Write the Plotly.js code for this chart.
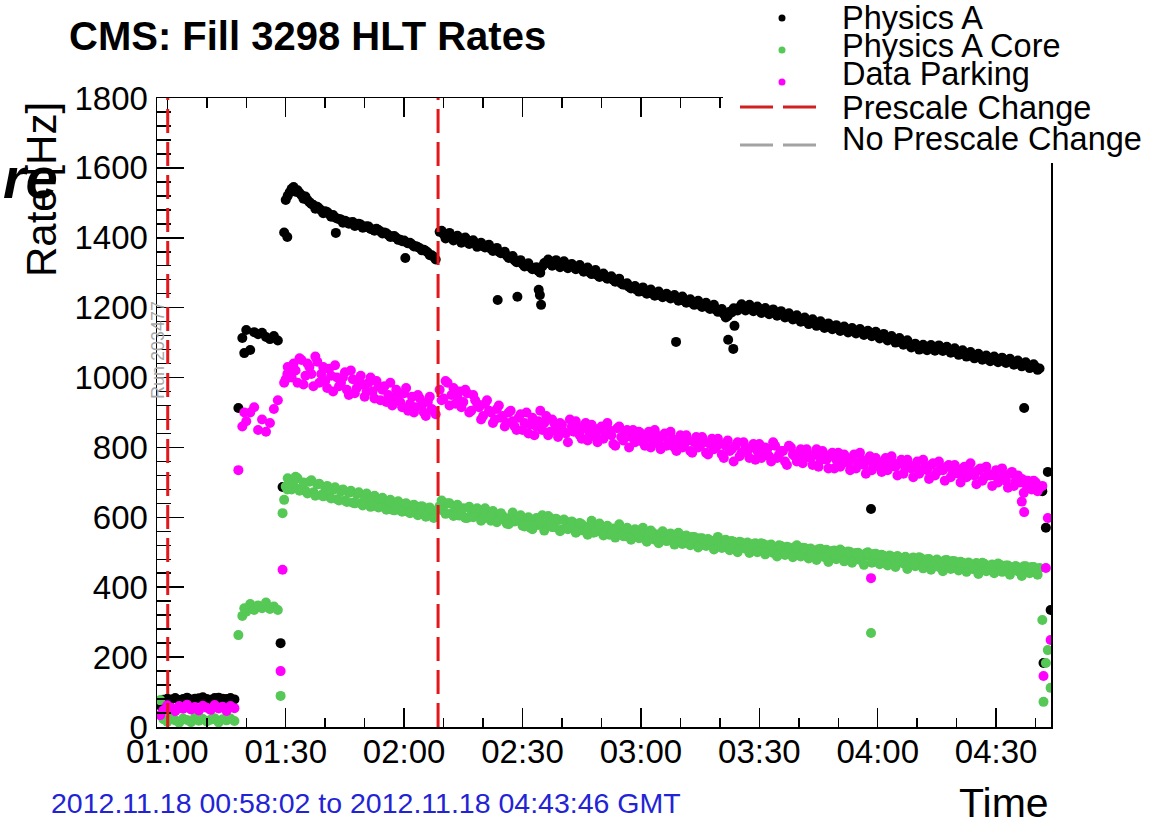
<!DOCTYPE html>
<html><head><meta charset="utf-8">
<script src="https://cdn.plot.ly/plotly-3.0.1.min.js"></script>
<style>html,body{margin:0;padding:0;background:#fff}#chart{width:1173px;height:827px}</style>
</head><body><div id="chart"></div>
<script>
// ---- data (time in minutes after 2012-11-18 00:00 GMT, rates in Hz) ----
const seg1Time = [58.2,59,60,61,62,63,64,65,66,67,68,69,70,71,72,73,74,75,76,77];
const seg1PhysicsA = [62,78,81,79,83,77,80,84,79,81,82,85,80,78,83,84,81,80,83,79];
const seg1Core = [77,22,15,26,19,12,24,20,14,27,18,23,16,21,25,13,22,19,24,17];
const seg1Parking = [34,48,62,55,45,60,52,64,50,57,47,61,55,49,63,53,58,46,60,54];

const seg2Time = [79,80,81,82,83,84,85,86,87,88];
const seg2PhysicsA = [1113,1136,1079,1130,1124,1128,1116,1110,1119,1106];
const seg2Core = [318,330,352,335,348,340,356,338,345,335];
const seg2Parking = [860,875,900,915,850,880,845,870,910,935];

const seg3Time = [90,91,92,93,94,95,96,97,98,99,100,101,102,103,104,105,106,107,108,109,110,111,112,113,114,115,116,117,118,119,120,121,122,123,124,125,126,127,128];
const seg3PhysicsA = [1508,1530,1545,1536,1522,1518,1502,1494,1489,1478,1476,1468,1465,1455,1452,1449,1440,1445,1436,1438,1430,1432,1424,1426,1418,1415,1408,1404,1400,1394,1392,1384,1381,1376,1370,1366,1358,1350,1338];
const seg3Core = [688,705,690,712,684,676,702,672,694,664,684,660,679,652,674,648,670,642,666,640,660,636,655,632,650,628,646,622,642,620,638,616,634,612,630,608,626,606,618];
const seg3Parking = [995,1015,1040,985,1050,1005,1030,975,1045,1010,990,1025,960,1000,985,1015,950,995,970,1005,945,985,960,990,935,975,950,920,965,930,955,905,945,915,940,900,930,910,895];

const seg3bTime = [90.5,91.5,92.5,93.5,94.5,95.5,96.5,97.5,98.5,99.5,100.5,101.5,102.5,103.5,104.5,105.5,106.5,107.5,108.5,109.5,110.5,111.5,112.5,113.5,114.5,115.5,116.5,117.5,118.5,119.5,120.5,121.5,122.5,123.5,124.5,125.5,126.5,127.5];
const seg3bPhysicsA = [1520,1540,1532,1528,1512,1508,1497,1483,1484,1470,1474,1460,1458,1454,1443,1446,1444,1434,1440,1429,1433,1425,1420,1422,1412,1413,1402,1405,1394,1390,1387,1386,1375,1373,1364,1362,1350,1346];
const seg3bCore = [712,680,716,676,700,668,706,662,696,660,690,654,686,648,680,644,676,640,672,634,668,630,662,628,656,622,650,620,646,616,640,612,636,606,632,602,628,598];
const seg3bParking = [1030,1000,1020,1055,980,1040,1010,1060,985,1030,970,1005,1035,975,1000,965,1020,955,990,980,960,1000,940,975,965,930,985,940,950,915,970,925,900,950,920,890,945,905];

const seg4Time = [129,130,131,132,133,134,135,136,137,138,139,140,141,142,143,144,145,146,147,148,149,150,151,152,153,154,155,156,157,158,159,160,161,162,163,164,165,166,167,168,169,170,171,172,173,174,175,176,177,178,179,180,181,182,183,184,185,186,187,188,189,190,191,192,193,194,195,196,197,198,199,200,201,202,203,204,205,206,207,208,209,210,211,212,213,214,215,216,217,218,219,220,221,222,223,224,225,226,227,228,229,230,231,232,233,234,235,236,237,238,239,240,241,242,243,244,245,246,247,248,249,250,251,252,253,254,255,256,257,258,259,260,261,262,263,264,265,266,267,268,269,270,271,272,273,274,275,276,277,278,279,280,281];
const seg4PhysicsA = [1417,1410,1406,1401,1403,1396,1398,1392,1390,1384,
1383,1376,1378,1369,1367,1360,1357,1349,1345,1335,
1332,1325,1323,1316,1313,1305,1318,1327,1332,1329,
1327,1325,1322,1323,1317,1315,1309,1307,1301,1299,
1293,1292,1287,1286,1279,1276,1269,1266,1259,1257,
1251,1250,1245,1244,1239,1239,1235,1235,1231,1231,
1226,1225,1219,1218,1213,1212,1207,1206,1201,1200,
1194,1191,1182,1176,1186,1196,1201,1202,1199,1200,
1195,1194,1190,1190,1187,1186,1181,1180,1175,1174,
1169,1168,1163,1162,1158,1157,1152,1151,1146,1146,
1142,1142,1138,1138,1135,1135,1131,1131,1127,1128,
1123,1121,1116,1115,1110,1109,1104,1103,1098,1096,
1090,1089,1086,1087,1085,1086,1084,1085,1081,1080,
1075,1074,1069,1069,1064,1064,1059,1059,1055,1056,
1052,1053,1050,1051,1047,1046,1041,1041,1036,1036,
1031,1030,1026];
const seg4Core = [632,618,640,612,628,605,626,598,620,610,
618,596,612,590,608,594,604,582,600,588,
598,576,594,570,590,578,606,580,598,572,
592,566,588,574,584,560,580,570,576,556,
574,560,572,550,568,558,566,546,562,552,
562,542,558,548,556,536,554,544,550,532,
548,538,546,526,544,534,540,522,538,528,
536,518,534,524,532,512,530,520,528,508,
526,516,524,504,522,512,520,500,516,506,
515,496,513,504,511,492,509,500,507,488,
505,496,503,484,501,492,499,480,497,488,
495,476,493,484,491,472,489,480,487,468,
485,476,483,464,481,472,479,460,477,468,
475,458,473,464,471,452,469,460,467,450,
465,456,464,446,462,454,461,444,460,452,
458,444,455];
const seg4Parking = [965,940,985,950,925,960,930,955,905,935,
915,890,935,900,880,920,890,870,905,860,
885,850,900,865,835,875,850,890,845,870,
830,865,840,880,845,860,825,870,840,855,
815,860,835,850,810,855,830,845,800,850,
825,840,805,845,820,835,795,840,815,825,
790,835,810,820,785,830,805,815,780,825,
800,810,770,820,795,805,775,815,790,800,
765,810,785,795,760,805,780,790,750,800,
775,785,755,795,770,780,745,790,765,775,
740,785,760,770,735,780,755,765,725,775,
750,760,730,770,745,755,720,765,740,750,
715,760,735,745,710,755,730,740,705,750,
725,735,700,745,720,730,695,740,715,725,
690,735,710,720,685,730,705,700,670,705,
680,700,685];

const seg4bTime = [129.5,130.5,131.5,132.5,133.5,134.5,135.5,136.5,137.5,138.5,139.5,140.5,141.5,142.5,143.5,144.5,145.5,146.5,147.5,148.5,149.5,150.5,151.5,152.5,153.5,154.5,155.5,156.5,157.5,158.5,159.5,160.5,161.5,162.5,163.5,164.5,165.5,166.5,167.5,168.5,169.5,170.5,171.5,172.5,173.5,174.5,175.5,176.5,177.5,178.5,179.5,180.5,181.5,182.5,183.5,184.5,185.5,186.5,187.5,188.5,189.5,190.5,191.5,192.5,193.5,194.5,195.5,196.5,197.5,198.5,199.5,200.5,201.5,202.5,203.5,204.5,205.5,206.5,207.5,208.5,209.5,210.5,211.5,212.5,213.5,214.5,215.5,216.5,217.5,218.5,219.5,220.5,221.5,222.5,223.5,224.5,225.5,226.5,227.5,228.5,229.5,230.5,231.5,232.5,233.5,234.5,235.5,236.5,237.5,238.5,239.5,240.5,241.5,242.5,243.5,244.5,245.5,246.5,247.5,248.5,249.5,250.5,251.5,252.5,253.5,254.5,255.5,256.5,257.5,258.5,259.5,260.5,261.5,262.5,263.5,264.5,265.5,266.5,267.5,268.5,269.5,270.5,271.5,272.5,273.5,274.5,275.5,276.5,277.5,278.5,279.5,280.5];
const seg4bPhysicsA = [1420,1398,1414,1392,1406,1386,1401,1382,1393,1374,
1386,1372,1380,1362,1371,1356,1360,1342,1348,1330,
1336,1318,1327,1310,1316,1300,1328,1338,1320,1336,
1316,1333,1313,1325,1310,1322,1303,1315,1296,1308,
1288,1298,1283,1290,1274,1283,1266,1270,1255,1262,
1246,1258,1240,1252,1234,1246,1230,1240,1226,1236,
1220,1232,1214,1224,1208,1220,1202,1214,1196,1208,
1188,1196,1172,1188,1198,1192,1210,1192,1208,1190,
1203,1185,1199,1181,1195,1177,1190,1172,1184,1166,
1178,1160,1172,1153,1167,1148,1161,1142,1155,1138,
1150,1133,1146,1129,1142,1126,1139,1122,1134,1118,
1131,1112,1125,1106,1119,1100,1113,1094,1107,1086,
1097,1080,1094,1078,1093,1077,1092,1076,1088,1071,
1084,1065,1078,1060,1073,1055,1068,1051,1063,1047,
1060,1044,1057,1042,1054,1037,1049,1032,1044,1027,
1038,1022];
const seg4bCore = [648,610,640,604,636,612,598,630,600,626,
590,626,598,618,586,612,592,580,614,590,
606,574,600,566,598,586,562,604,572,596,
560,594,566,588,556,584,562,550,590,558,
582,548,576,552,542,580,546,570,536,566,
540,570,530,562,536,526,560,532,554,522,
556,524,548,520,544,514,540,518,534,508,
544,512,536,506,530,500,528,510,498,524,
500,526,494,520,498,488,518,492,514,486,
520,488,512,482,506,478,510,486,472,504,
480,508,474,502,470,498,478,464,500,470,
496,466,490,462,488,458,484,468,452,482,
460,486,454,480,450,476,458,446,478,452,
474,448,470,444,466,452,438,470,446,462,
440,468,444,462,436,458,446,432,460,440,
458,436];
const seg4bParking = [935,990,920,970,945,915,965,900,950,925,
880,925,905,870,910,885,860,900,875,850,
895,870,840,885,860,905,870,835,880,850,
870,845,815,860,875,835,855,820,865,830,
850,825,870,835,805,860,820,850,830,815,
845,815,830,800,850,810,830,805,845,800,
820,800,835,790,815,800,830,785,810,795,
825,780,805,790,760,815,785,800,770,810,
790,770,800,775,815,770,790,760,805,780,
760,795,770,780,750,795,765,780,740,785,
765,745,780,755,770,740,785,750,765,735,
770,745,760,735,775,745,755,725,765,740,
745,725,765,735,750,720,760,735,745,715,
750,725,740,715,755,720,735,705,745,720,
720,700,740,705,725,690,720,710,695,685,
705,675];

// isolated readings (ramp transitions, dips, beam dump)
const spikeTime = [78,79.5,88.7,89.2,89.6,90.4,102.7,120.3,143.7,148.7,154.1,154.4,154.7,188.9,202.1,203.4,203.7,238.3,276.5,277.1,281.7,282.0,282.6,283.1,283.8];
const spikePhysicsA = [913,1070,240,687,1415,1402,1414,1342,1222,1231,1251,1236,1208,1102,1108,1082,1148,624,null,913,675,183,570,730,335];
const spikeCore = [263,340,89,612,650,680,null,null,null,null,null,null,null,null,null,null,null,269,null,null,306,72,183,220,112];
const spikeParking = [735,900,160,450,985,1010,null,null,null,null,null,null,null,null,null,null,null,426,645,615,690,146,455,598,249];

const prescaleChangeTime = [60.1, 128.6];

const seriesNames = ['Physics A','Physics A Core','Data Parking'];
const seriesColors = ['#000000','#55c855','#ff00ff'];
const xTickFormat = '%H:%M';
const xRangeMin = [57.39, 283.9];

// ---- helpers ----
function minToDate(m){
  const s = Math.round(m*60);
  const p = n => String(n).padStart(2,'0');
  return '2012-11-18 ' + p(Math.floor(s/3600)) + ':' + p(Math.floor((s%3600)/60)) + ':' + p(s%60);
}
const allTime = seg1Time.concat(seg2Time, seg3Time, seg3bTime, seg4Time, seg4bTime, spikeTime).map(minToDate);
const physA = seg1PhysicsA.concat(seg2PhysicsA, seg3PhysicsA, seg3bPhysicsA, seg4PhysicsA, seg4bPhysicsA, spikePhysicsA);
const core = seg1Core.concat(seg2Core, seg3Core, seg3bCore, seg4Core, seg4bCore, spikeCore);
const parking = seg1Parking.concat(seg2Parking, seg3Parking, seg3bParking, seg4Parking, seg4bParking, spikeParking);

const FONT = 'Liberation Sans, Arial, Helvetica, sans-serif';
const L = 157, T = 98, W = 894, H = 629;
const px = x => (x - L) / W;
const py = y => (T + H - y) / H;

const traces = [physA, core, parking].map((vals, i) => ({
  type: 'scatter', mode: 'markers', x: allTime, y: vals, name: seriesNames[i],
  marker: {color: seriesColors[i], size: 10, line: {width: 0}},
  showlegend: false, hoverinfo: 'skip', cliponaxis: true
}));

const shapes = [];
prescaleChangeTime.forEach(t => shapes.push({
  type: 'line', xref: 'x', yref: 'paper', x0: minToDate(t), x1: minToDate(t), y0: 0, y1: 1,
  line: {color: '#e3161c', width: 3, dash: '24px,9px'}, layer: 'above'
}));
// legend background covering frame
shapes.push({type:'rect', xref:'paper', yref:'paper', x0: px(723), x1: px(1173), y0: py(163), y1: py(0),
  fillcolor:'#ffffff', line:{width:0}, layer:'above'});
// legend markers
const legDotY = [18, 50, 82];
legDotY.forEach((y, i) => shapes.push({type:'circle', xref:'paper', yref:'paper', xsizemode:'pixel', ysizemode:'pixel',
  xanchor: px(782), yanchor: py(y), x0:-3.5, x1:3.5, y0:-3.5, y1:3.5,
  fillcolor: seriesColors[i], line:{width:0}, layer:'above'}));
// legend dashed lines
shapes.push({type:'line', xref:'paper', yref:'paper', x0: px(740), x1: px(817), y0: py(107), y1: py(107),
  line:{color:'#d21f1f', width:3, dash:'33px,10px'}, layer:'above'});
shapes.push({type:'line', xref:'paper', yref:'paper', x0: px(740), x1: px(817), y0: py(145), y1: py(145),
  line:{color:'#a3a3a3', width:3, dash:'33px,10px'}, layer:'above'});

const legText = ['Physics A','Physics A Core','Data Parking','Prescale Change','No Prescale Change'];
const legTextY = [18, 46, 74, 108, 139];
const annotations = legText.map((t, i) => ({
  text: t, xref:'paper', yref:'paper', x: px(840), y: py(legTextY[i]), xanchor:'left', yanchor:'middle',
  showarrow:false, font:{family: FONT, size: 32.5, color:'#000'}
}));
annotations.push({text:'Rate [Hz]', xref:'paper', yref:'paper', x: px(41), y: py(190), textangle:-90,
  xanchor:'center', yanchor:'middle', showarrow:false, font:{family: FONT, size: 42, color:'#000'}});
annotations.push({text:'<b><i>re</i></b>', xref:'paper', yref:'paper', x: px(1), y: py(177), xanchor:'left', yanchor:'middle',
  showarrow:false, font:{family: FONT, size: 58, color:'#000'}});
annotations.push({text:'Run 203477', xref:'paper', yref:'paper', x: px(158), y: py(350), textangle:-90,
  xanchor:'center', yanchor:'middle', showarrow:false, font:{family: FONT, size: 18, color:'#a8a8a8'}});
annotations.push({text:'2012.11.18 00:58:02 to 2012.11.18 04:43:46 GMT', xref:'paper', yref:'paper', x: px(49), y: py(803),
  xanchor:'left', yanchor:'middle', showarrow:false, font:{family: FONT, size: 28.5, color:'#2323d6'}});
annotations.push({text:'Time', xref:'paper', yref:'paper', x: px(1051), y: py(803), xanchor:'right', yanchor:'middle',
  showarrow:false, font:{family: FONT, size: 41, color:'#000'}});

const layout = {
  width: 1173, height: 827,
  margin: {l: L, r: 1173 - L - W, t: T, b: 827 - T - H, pad: 0},
  paper_bgcolor: '#ffffff', plot_bgcolor: '#ffffff',
  showlegend: false,
  title: {text: '<b>CMS: Fill 3298 HLT Rates</b>', xref:'container', yref:'container',
    x: 69/1173, xanchor:'left', y: 1 - 36/827, yanchor:'middle',
    font: {family: FONT, size: 40, color: '#000'}},
  xaxis: {
    type: 'date', range: xRangeMin.map(minToDate),
    tick0: '2012-11-18 01:00:00', dtick: 1800000, tickformat: xTickFormat,
    ticks: 'inside', ticklen: 19, tickwidth: 1.5, tickcolor: '#000',
    showline: true, linecolor: '#000', linewidth: 1.5, mirror: 'ticks',
    showgrid: false, zeroline: false,
    tickfont: {family: FONT, size: 33, color: '#000'},
    ticklabelstandoff: -5,
    minor: {dtick: 600000, tick0: '2012-11-18 01:00:00', ticks: 'inside', ticklen: 9.5, tickwidth: 1.5, tickcolor: '#000', showgrid: false}
  },
  yaxis: {
    range: [0, 1800], dtick: 200, tick0: 0,
    ticks: 'inside', ticklen: 27, tickwidth: 1.5, tickcolor: '#000',
    showline: true, linecolor: '#000', linewidth: 1.5, mirror: true,
    showgrid: false, zeroline: false,
    tickfont: {family: FONT, size: 33, color: '#000'},
    ticklabelstandoff: 1,
    minor: {dtick: 40, tick0: 0, ticks: 'inside', ticklen: 13.5, tickwidth: 1.5, tickcolor: '#000', showgrid: false}
  },
  shapes: shapes,
  annotations: annotations
};

Plotly.newPlot('chart', traces, layout, {displayModeBar: false, staticPlot: true});
</script>
</body></html>
